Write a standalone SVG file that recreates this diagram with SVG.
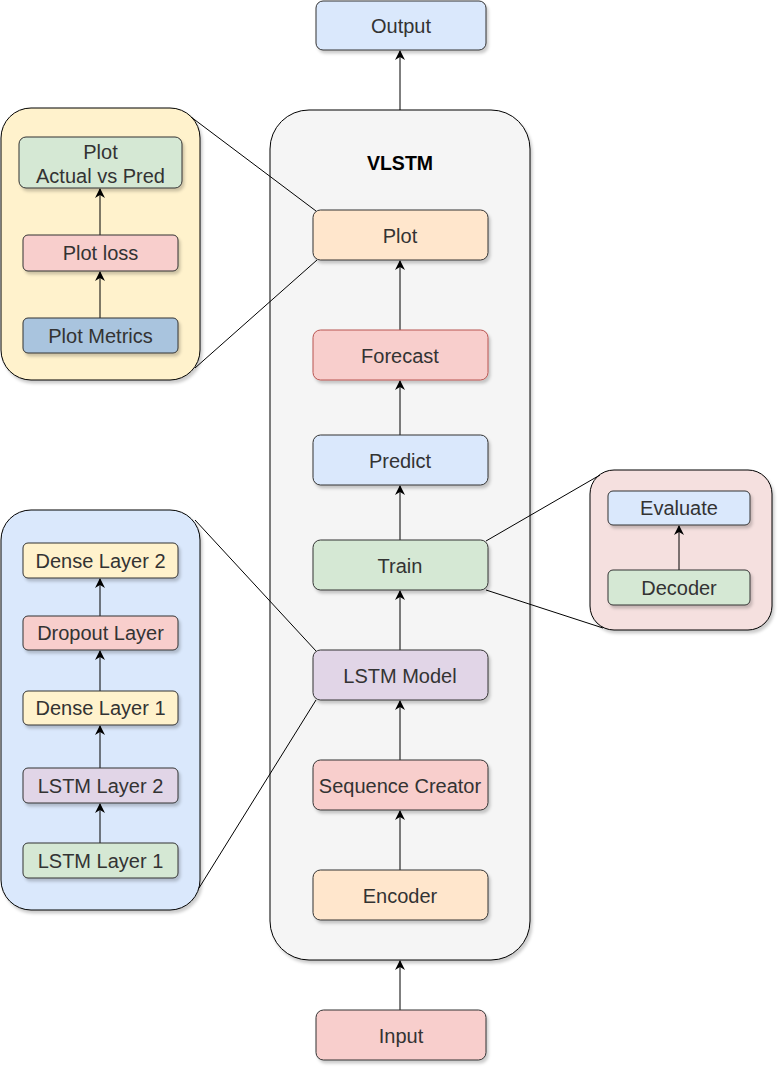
<svg xmlns="http://www.w3.org/2000/svg" width="782" height="1072" viewBox="0 0 782 1072">
<style>
  text { font-family: "Liberation Sans", Arial, Helvetica, sans-serif; font-size: 20px; fill: #333333; text-anchor: middle; }
  .title { font-weight: bold; fill: #000000; font-size: 19.5px; }
  .node { stroke: #333333; stroke-width: 1; filter: url(#shadow); }
  .panel { stroke: #000000; stroke-width: 1; filter: url(#shadow); }
  .edge { stroke: #000000; stroke-width: 1; fill: none; }
  .zoomline { stroke: #000000; stroke-width: 1; fill: none; }
</style>
<defs>
  <filter id="shadow" x="-10%" y="-10%" width="130%" height="130%">
    <feDropShadow dx="2" dy="3" stdDeviation="1.5" flood-color="#000000" flood-opacity="0.2"/>
  </filter>
  <marker id="arrow" viewBox="0 0 10 10" refX="9" refY="5" markerWidth="10" markerHeight="10" markerUnits="userSpaceOnUse" orient="auto">
    <path d="M0,0 L10,5 L0,10 L3,5 Z" fill="#000000"/>
  </marker>
</defs>
<rect width="782" height="1072" fill="#ffffff"/>

<g id="vlstm">
  <rect class="panel" x="270" y="110" width="260" height="850" rx="39" ry="39" fill="#f5f5f5"/>
  <text class="title" x="400" y="170">VLSTM</text>
</g>
<g id="plot-panel">
  <rect class="panel" x="1" y="108" width="199" height="272" rx="30" ry="30" fill="#fff2cc"/>
</g>
<g id="lstm-panel">
  <rect class="panel" x="1" y="510" width="199" height="400" rx="30" ry="30" fill="#dae8fc"/>
</g>
<g id="train-panel">
  <rect class="panel" x="590" y="470" width="182" height="160" rx="24" ry="24" fill="#f5e0df"/>
</g>

<g id="connectors">
  <line class="edge" x1="400" y1="1010" x2="400" y2="961" marker-end="url(#arrow)"/>
  <line class="edge" x1="400" y1="870" x2="400" y2="811" marker-end="url(#arrow)"/>
  <line class="edge" x1="400" y1="760" x2="400" y2="701" marker-end="url(#arrow)"/>
  <line class="edge" x1="400" y1="650" x2="400" y2="591" marker-end="url(#arrow)"/>
  <line class="edge" x1="400" y1="540" x2="400" y2="486" marker-end="url(#arrow)"/>
  <line class="edge" x1="400" y1="435" x2="400" y2="381" marker-end="url(#arrow)"/>
  <line class="edge" x1="400" y1="330" x2="400" y2="261" marker-end="url(#arrow)" stroke="#808080"/>
  <line class="edge" x1="400" y1="110" x2="400" y2="51" marker-end="url(#arrow)"/>
  <line class="edge" x1="100" y1="318" x2="100" y2="272" marker-end="url(#arrow)"/>
  <line class="edge" x1="100" y1="235" x2="100" y2="189" marker-end="url(#arrow)"/>
  <line class="edge" x1="100" y1="843" x2="100" y2="804" marker-end="url(#arrow)"/>
  <line class="edge" x1="100" y1="768" x2="100" y2="726" marker-end="url(#arrow)"/>
  <line class="edge" x1="100" y1="691" x2="100" y2="651" marker-end="url(#arrow)"/>
  <line class="edge" x1="100" y1="616" x2="100" y2="579" marker-end="url(#arrow)"/>
  <line class="edge" x1="679" y1="570" x2="679" y2="526" marker-end="url(#arrow)"/>
  <line class="zoomline" x1="191" y1="117" x2="316" y2="211"/>
  <line class="zoomline" x1="195" y1="368" x2="317" y2="260"/>
  <line class="zoomline" x1="195" y1="520" x2="316" y2="651"/>
  <line class="zoomline" x1="199" y1="888" x2="316" y2="700"/>
  <line class="zoomline" x1="486" y1="541" x2="600" y2="475"/>
  <line class="zoomline" x1="486" y1="590" x2="603" y2="628"/>
</g>

<g id="output">
  <rect class="node" x="316" y="1" width="170" height="49" rx="7" ry="7" fill="#dae8fc"/>
  <text x="401" y="33">Output</text>
</g>
<g id="plot">
  <rect class="node" x="313" y="210" width="175" height="50" rx="7.5" ry="7.5" fill="#ffe6cc"/>
  <text x="400" y="243">Plot</text>
</g>
<g id="forecast">
  <rect class="node" x="313" y="330" width="175" height="50" rx="7.5" ry="7.5" fill="#f8cecc" style="stroke:#b85450"/>
  <text x="400" y="363">Forecast</text>
</g>
<g id="predict">
  <rect class="node" x="313" y="435" width="175" height="50" rx="7.5" ry="7.5" fill="#dae8fc"/>
  <text x="400" y="468">Predict</text>
</g>
<g id="train">
  <rect class="node" x="313" y="540" width="175" height="50" rx="7.5" ry="7.5" fill="#d5e8d4"/>
  <text x="400" y="573">Train</text>
</g>
<g id="lstm-model">
  <rect class="node" x="313" y="650" width="175" height="50" rx="7.5" ry="7.5" fill="#e1d5e7"/>
  <text x="400" y="683">LSTM Model</text>
</g>
<g id="sequence-creator">
  <rect class="node" x="313" y="760" width="175" height="50" rx="7.5" ry="7.5" fill="#f8cecc"/>
  <text x="400" y="793">Sequence Creator</text>
</g>
<g id="encoder">
  <rect class="node" x="313" y="870" width="175" height="50" rx="7.5" ry="7.5" fill="#ffe6cc"/>
  <text x="400" y="903">Encoder</text>
</g>
<g id="input">
  <rect class="node" x="316" y="1010" width="170" height="50" rx="7.5" ry="7.5" fill="#f8cecc"/>
  <text x="401" y="1043">Input</text>
</g>

<g id="plot-actual-vs-pred">
  <rect class="node" x="19" y="137" width="163" height="51" rx="7" ry="7" fill="#d5e8d4"/>
  <text x="100.5" y="159">Plot</text>
  <text x="100.5" y="183">Actual vs Pred</text>
</g>
<g id="plot-loss">
  <rect class="node" x="23" y="235" width="155" height="36" rx="5" ry="5" fill="#f8cecc"/>
  <text x="100.5" y="260">Plot loss</text>
</g>
<g id="plot-metrics">
  <rect class="node" x="23" y="318" width="155" height="35" rx="5" ry="5" fill="#a9c4de"/>
  <text x="100.5" y="343">Plot Metrics</text>
</g>

<g id="dense-layer-2">
  <rect class="node" x="23" y="543" width="155" height="35" rx="5" ry="5" fill="#fff2cc"/>
  <text x="100.5" y="568">Dense Layer 2</text>
</g>
<g id="dropout-layer">
  <rect class="node" x="23" y="616" width="155" height="34" rx="5" ry="5" fill="#f8cecc"/>
  <text x="100.5" y="640">Dropout Layer</text>
</g>
<g id="dense-layer-1">
  <rect class="node" x="23" y="691" width="155" height="34" rx="5" ry="5" fill="#fff2cc"/>
  <text x="100.5" y="715">Dense Layer 1</text>
</g>
<g id="lstm-layer-2">
  <rect class="node" x="23" y="768" width="155" height="35" rx="5" ry="5" fill="#e1d5e7"/>
  <text x="100.5" y="793">LSTM Layer 2</text>
</g>
<g id="lstm-layer-1">
  <rect class="node" x="23" y="843" width="155" height="35" rx="5" ry="5" fill="#d5e8d4"/>
  <text x="100.5" y="868">LSTM Layer 1</text>
</g>

<g id="evaluate">
  <rect class="node" x="608" y="491" width="142" height="34" rx="5" ry="5" fill="#dae8fc"/>
  <text x="679" y="515">Evaluate</text>
</g>
<g id="decoder">
  <rect class="node" x="608" y="570" width="142" height="35" rx="5" ry="5" fill="#d5e8d4"/>
  <text x="679" y="595">Decoder</text>
</g>
</svg>
